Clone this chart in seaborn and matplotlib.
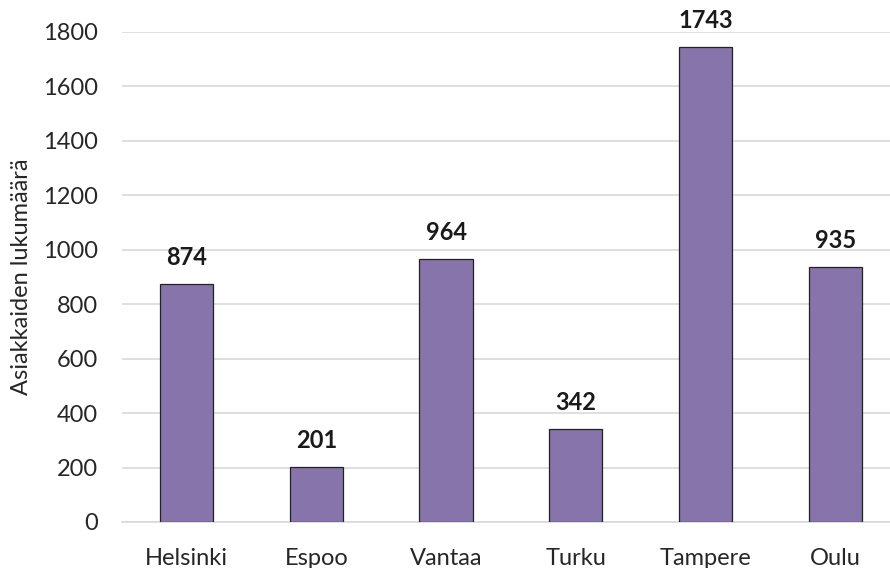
import matplotlib
matplotlib.use("Agg")
import matplotlib.pyplot as plt
import pandas as pd
import seaborn as sns

cities = ["Helsinki", "Espoo", "Vantaa", "Turku", "Tampere", "Oulu"]
counts = [874, 201, 964, 342, 1743, 935]

sns.set_theme(style="white")
plt.rcParams["font.family"] = ["Lato", "DejaVu Sans"]

df = pd.DataFrame({"city": cities, "count": counts})

fig = plt.figure(figsize=(8.9, 5.68), dpi=100)
ax = fig.add_axes([0.137, 0.081, 0.863, 0.863])
sns.barplot(data=df, x="city", y="count", color="#8674AA", saturation=1,
            width=0.41, edgecolor="#222222", linewidth=0.9, ax=ax, zorder=3)

ax.set_xlim(-0.497, 5.42)
ax.set_ylim(0, 1800)
ax.set_yticks(range(0, 1801, 200))
ax.yaxis.grid(True, color="#d9d9d9", linewidth=1.2, zorder=0)
ax.set_axisbelow(True)
for s in ["left", "right", "top"]:
    ax.spines[s].set_visible(False)
ax.spines["bottom"].set_color("#d9d9d9")
ax.spines["bottom"].set_linewidth(1.2)
ax.tick_params(axis="both", length=0, labelsize=17, colors="#262626")
ax.tick_params(axis="y", pad=17)
ax.tick_params(axis="x", pad=19)
ax.set_xlabel("")
ax.set_ylabel("Asiakkaiden lukumäärä", fontsize=17, color="#262626", labelpad=8)

for i, v in enumerate(counts):
    ax.text(i, v + 55, str(v), ha="center", va="bottom", fontsize=17,
            fontweight="bold", color="#1a1a1a", clip_on=False)

fig.savefig("out.png", dpi=100)
